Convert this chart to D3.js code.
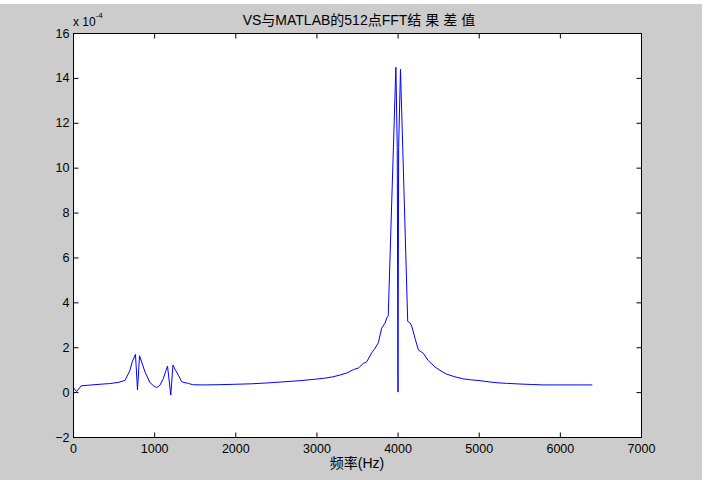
<!DOCTYPE html>
<html>
<head>
<meta charset="utf-8">
<script src="https://cdn.jsdelivr.net/npm/d3@7"></script>
<style>
  body { margin: 0; background: #fff; }
  svg text { font-family: "Liberation Sans", Arial, "Noto Sans CJK SC", sans-serif; fill: #000; }
</style>
</head>
<body>
<svg id="chart" width="711" height="480"></svg>
<script>
// frequency (Hz) and difference (x 1e-4)
const freq = [0, 45, 100, 200, 333, 450, 555, 640, 700, 730, 770, 795, 820, 850, 887, 949,
  1000, 1031, 1070, 1113, 1140, 1165, 1205, 1232, 1260, 1298, 1339, 1380, 1421, 1475,
  1600, 1800, 2000, 2200, 2400, 2600, 2800, 3000, 3100, 3200, 3290, 3380, 3455, 3520,
  3578, 3620, 3681, 3722, 3763, 3804, 3845, 3866, 3885, 3979, 3996, 4005, 4013, 4036,
  4125, 4150, 4174, 4215, 4256, 4317, 4379, 4461, 4523, 4605, 4708, 4810, 4900, 5016,
  5139, 5250, 5345, 5509, 5650, 5796, 6000, 6200, 6400];
const diffVal = [0.22, 0.02, 0.28, 0.31, 0.35, 0.38, 0.43, 0.52, 0.95, 1.35, 1.68, 0.1, 1.62, 1.3, 0.9, 0.42,
  0.26, 0.2, 0.3, 0.6, 0.9, 1.16, -0.13, 1.2, 1.0, 0.76, 0.46, 0.42, 0.39, 0.33,
  0.32, 0.33, 0.35, 0.37, 0.41, 0.46, 0.51, 0.58, 0.62, 0.68, 0.76, 0.86, 1.0, 1.08,
  1.28, 1.35, 1.75, 1.95, 2.2, 2.85, 3.07, 3.3, 3.4, 14.47, 10.9, 0.0, 10.9, 14.38,
  3.15, 3.1, 2.95, 2.4, 1.88, 1.73, 1.4, 1.12, 0.97, 0.8, 0.68, 0.59, 0.55, 0.51,
  0.45, 0.41, 0.39, 0.36, 0.34, 0.32, 0.32, 0.32, 0.32];

const xTicks = [0, 1000, 2000, 3000, 4000, 5000, 6000, 7000];
const yTicks = [-2, 0, 2, 4, 6, 8, 10, 12, 14, 16];

const titleHead = "VS与MATLAB的512点FFT";
const titleTail = "结果差值";
const xLabel = "频率(Hz)";

const svg = d3.select("#chart");
const mLeft = 73, mTop = 33, w = 568, h = 404;

// MATLAB grey figure
svg.append("rect").attr("x", 0).attr("y", 4).attr("width", 702).attr("height", 476).attr("fill", "#cccccc");

const x = d3.scaleLinear().domain([0, 7000]).range([mLeft, mLeft + w]);
const y = d3.scaleLinear().domain([-2, 16]).range([mTop + h, mTop]);

svg.append("rect")
  .attr("x", mLeft + 0.5).attr("y", mTop + 0.5)
  .attr("width", w).attr("height", h)
  .attr("fill", "#fff");

const line = d3.line().x((d, i) => x(freq[i])).y(d => y(d));
svg.append("path")
  .datum(diffVal)
  .attr("d", line)
  .attr("fill", "none")
  .attr("stroke", "#0000ff")
  .attr("stroke-width", 1);

function styleAxis(g) {
  g.select(".domain").remove();
  g.selectAll("line").attr("stroke", "#000");
  g.selectAll("text").attr("font-size", 12.5).attr("font-family", null);
}

svg.append("g").attr("transform", `translate(0,${mTop + h + 0.5})`)
  .call(d3.axisBottom(x).tickValues(xTicks).tickSize(-5).tickPadding(6.5).tickFormat(d3.format("d")))
  .call(styleAxis);
svg.append("g").attr("transform", `translate(0,${mTop + 0.5})`)
  .call(d3.axisTop(x).tickValues(xTicks).tickSize(-5).tickFormat(""))
  .call(styleAxis);
svg.append("g").attr("transform", `translate(${mLeft + 0.5},0)`)
  .call(d3.axisLeft(y).tickValues(yTicks).tickSize(-5).tickPadding(4).tickFormat(d3.format("d")))
  .call(styleAxis);
svg.append("g").attr("transform", `translate(${mLeft + w + 0.5},0)`)
  .call(d3.axisRight(y).tickValues(yTicks).tickSize(-5).tickFormat(""))
  .call(styleAxis);

svg.append("rect")
  .attr("x", mLeft + 0.5).attr("y", mTop + 0.5)
  .attr("width", w).attr("height", h)
  .attr("fill", "none").attr("stroke", "#000");

// exponent label
const expo = svg.append("text").attr("x", mLeft).attr("y", 26).attr("font-size", 12);
expo.append("tspan").text("x 10");
expo.append("tspan").attr("dy", -8).attr("font-size", 8).text("-4");

const title = svg.append("text")
  .attr("x", mLeft + w / 2 + 4).attr("y", 25)
  .attr("text-anchor", "middle").attr("font-size", 14);
title.append("tspan").text(titleHead);
title.append("tspan").attr("letter-spacing", 4).text(titleTail);

svg.append("text")
  .attr("x", mLeft + w / 2).attr("y", 468)
  .attr("text-anchor", "middle").attr("font-size", 14)
  .text(xLabel);
</script>
</body>
</html>
